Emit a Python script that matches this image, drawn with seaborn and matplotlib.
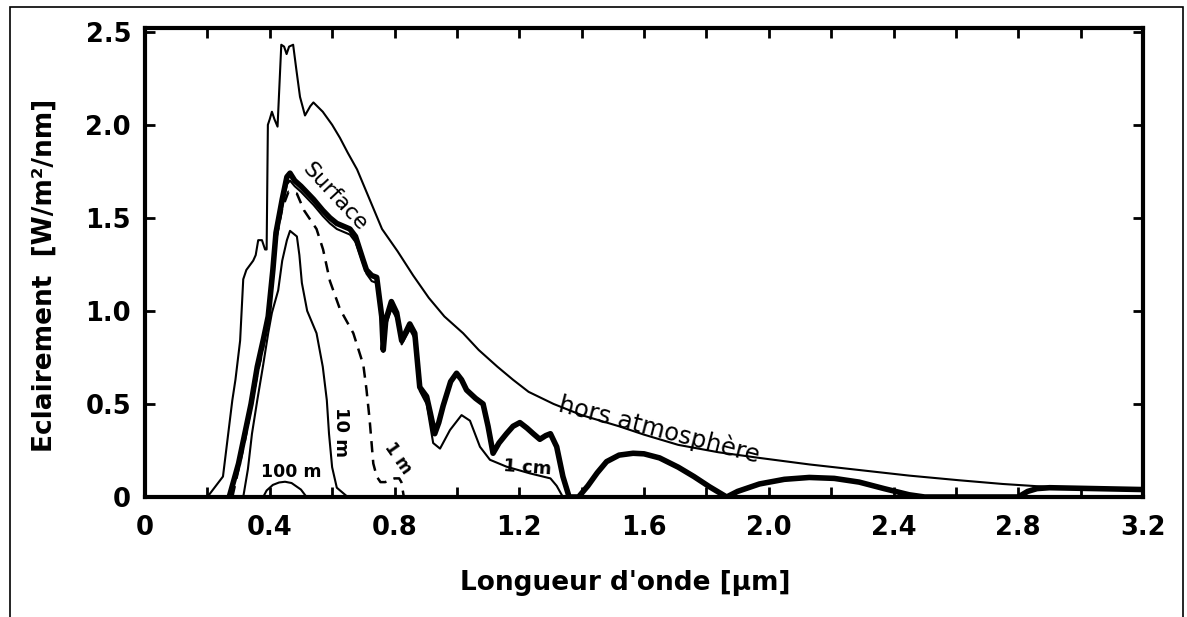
import numpy as np
import pandas as pd
import matplotlib
matplotlib.use("Agg")
import matplotlib.pyplot as plt
from matplotlib.patches import Rectangle
import seaborn as sns

# longueurs d'onde (µm) et éclairement (W/m²/nm)
hors_wl = [0.20, 0.25, 0.28, 0.29, 0.305, 0.315, 0.325, 0.347, 0.355, 0.363, 0.375,
           0.385, 0.390, 0.394, 0.400, 0.407, 0.415, 0.425, 0.437, 0.446, 0.454,
           0.462, 0.475, 0.485, 0.497, 0.513, 0.530, 0.540, 0.570, 0.600, 0.625,
           0.650, 0.680, 0.705, 0.730, 0.760, 0.810, 0.860, 0.910, 0.960, 1.020,
           1.070, 1.130, 1.180, 1.230, 1.310, 1.400, 1.520, 1.600, 1.710, 1.840,
           1.970, 2.130, 2.290, 2.450, 2.610, 2.750, 2.860, 3.000, 3.200]
hors_val = [0.0, 0.11, 0.52, 0.63, 0.84, 1.17, 1.22, 1.27, 1.30, 1.38, 1.38,
            1.33, 1.33, 2.00, 2.03, 2.07, 2.03, 1.99, 2.43, 2.42, 2.38,
            2.42, 2.43, 2.30, 2.15, 2.05, 2.10, 2.12, 2.07, 2.00, 1.93,
            1.85, 1.76, 1.66, 1.56, 1.44, 1.32, 1.19, 1.07, 0.97, 0.88,
            0.79, 0.70, 0.63, 0.565, 0.50, 0.44, 0.38, 0.335, 0.28, 0.24,
            0.21, 0.175, 0.145, 0.115, 0.09, 0.07, 0.058, 0.048, 0.04]

surf_wl = [0.27, 0.30, 0.32, 0.34, 0.36, 0.38, 0.395, 0.41, 0.42, 0.44, 0.455,
           0.465, 0.48, 0.50, 0.54, 0.57, 0.593, 0.615, 0.657, 0.675, 0.70,
           0.71, 0.727, 0.743, 0.759, 0.764, 0.772, 0.79, 0.807, 0.823, 0.849,
           0.865, 0.881, 0.903, 0.915, 0.929, 0.942, 0.956, 0.98, 0.999, 1.015,
           1.031, 1.06, 1.084, 1.10, 1.116, 1.135, 1.159, 1.18, 1.202, 1.225,
           1.245, 1.266, 1.285, 1.30, 1.32, 1.34, 1.36, 1.39, 1.42, 1.45,
           1.48, 1.52, 1.565, 1.60, 1.65, 1.71, 1.76, 1.81, 1.865, 1.90,
           1.97, 2.05, 2.13, 2.21, 2.29, 2.37, 2.45, 2.50, 2.80, 2.83,
           2.86, 2.90, 3.20]
surf_val = [0.0, 0.18, 0.34, 0.50, 0.70, 0.85, 0.97, 1.22, 1.42, 1.60, 1.72,
            1.74, 1.70, 1.67, 1.60, 1.54, 1.50, 1.47, 1.44, 1.40, 1.27,
            1.22, 1.19, 1.18, 0.97, 0.79, 0.95, 1.05, 0.99, 0.84, 0.93,
            0.88, 0.59, 0.54, 0.45, 0.34, 0.40, 0.49, 0.62, 0.665, 0.63,
            0.575, 0.53, 0.50, 0.38, 0.235, 0.29, 0.34, 0.38, 0.40, 0.37,
            0.34, 0.31, 0.33, 0.34, 0.27, 0.11, 0.0, 0.0, 0.06, 0.13,
            0.19, 0.225, 0.235, 0.232, 0.21, 0.16, 0.11, 0.055, 0.0, 0.03,
            0.07, 0.095, 0.105, 0.10, 0.08, 0.045, 0.012, 0.0, 0.0, 0.03,
            0.045, 0.05, 0.04]

cm_wl = [0.27, 0.30, 0.32, 0.34, 0.36, 0.38, 0.395, 0.41, 0.42, 0.44, 0.455,
         0.465, 0.48, 0.50, 0.54, 0.57, 0.593, 0.615, 0.657, 0.675, 0.70,
         0.71, 0.727, 0.743, 0.759, 0.764, 0.772, 0.79, 0.807, 0.823, 0.849,
         0.865, 0.881, 0.903, 0.924, 0.946, 0.978, 1.015, 1.042, 1.074, 1.106,
         1.159, 1.234, 1.30, 1.32, 1.34]
cm_val = [0.0, 0.17, 0.33, 0.49, 0.68, 0.83, 0.95, 1.19, 1.38, 1.56, 1.68,
          1.70, 1.67, 1.64, 1.57, 1.51, 1.47, 1.44, 1.41, 1.37, 1.25,
          1.20, 1.16, 1.15, 0.95, 0.78, 0.92, 1.01, 0.96, 0.82, 0.90,
          0.85, 0.57, 0.50, 0.29, 0.26, 0.36, 0.44, 0.41, 0.27, 0.20,
          0.163, 0.127, 0.10, 0.06, 0.0]

m1_wl = [0.28, 0.30, 0.32, 0.34, 0.36, 0.375, 0.395, 0.41, 0.42, 0.44, 0.46,
         0.487, 0.51, 0.55, 0.571, 0.593, 0.625, 0.668, 0.70, 0.71, 0.72,
         0.732, 0.743, 0.755, 0.77, 0.785, 0.80, 0.815, 0.822, 0.83]
m1_val = [0.0, 0.15, 0.30, 0.48, 0.66, 0.77, 0.95, 1.20, 1.38, 1.55, 1.64,
          1.63, 1.54, 1.44, 1.33, 1.16, 1.01, 0.88, 0.71, 0.58, 0.42,
          0.18, 0.11, 0.08, 0.08, 0.09, 0.10, 0.10, 0.08, 0.0]

m10_wl = [0.315, 0.33, 0.343, 0.36, 0.378, 0.395, 0.407, 0.427, 0.44, 0.455,
          0.465, 0.487, 0.495, 0.503, 0.52, 0.55, 0.57, 0.583, 0.59, 0.60,
          0.615, 0.65]
m10_val = [0.0, 0.15, 0.34, 0.52, 0.70, 0.88, 0.99, 1.11, 1.27, 1.38,
           1.43, 1.40, 1.30, 1.15, 1.00, 0.88, 0.70, 0.52, 0.34, 0.16,
           0.05, 0.0]

m100_wl = [0.379, 0.39, 0.41, 0.43, 0.449, 0.47, 0.50, 0.518]
m100_val = [0.0, 0.035, 0.065, 0.078, 0.082, 0.075, 0.04, 0.0]

x_ticks = [0, 0.4, 0.8, 1.2, 1.6, 2.0, 2.4, 2.8, 3.2]
x_labels = ["0", "0.4", "0.8", "1.2", "1.6", "2.0", "2.4", "2.8", "3.2"]
y_ticks = [0, 0.5, 1.0, 1.5, 2.0, 2.5]
y_labels = ["0", "0.5", "1.0", "1.5", "2.0", "2.5"]

sns.set_style("ticks")
plt.rcParams["font.family"] = ["DejaVu Sans"]
plt.rcParams.update({"text.color": "black", "axes.labelcolor": "black",
                     "xtick.color": "black", "ytick.color": "black",
                     "axes.edgecolor": "black"})

fig = plt.figure(figsize=(11.87, 6.17), dpi=100)
ax = fig.add_axes([145 / 1187, 1 - 497 / 617, 998 / 1187, 469 / 617])

curves = [
    (hors_wl, hors_val, 1.5),
    (cm_wl, cm_val, 1.5),
    (surf_wl, surf_val, 4.0),
    (m10_wl, m10_val, 1.5),
    (m100_wl, m100_val, 1.5),
]
for wl, val, lw in curves:
    df = pd.DataFrame({"wl": wl, "E": val})
    sns.lineplot(data=df, x="wl", y="E", ax=ax, color="black", lw=lw,
                 estimator=None, errorbar=None)

df_1m = pd.DataFrame({"wl": m1_wl, "E": m1_val})
sns.lineplot(data=df_1m, x="wl", y="E", ax=ax, color="black", lw=1.8,
             estimator=None, errorbar=None)
ax.lines[-1].set_dashes([4.5, 3])

ax.set_xlim(0, 3.2)
ax.set_ylim(0, 2.52)
ax.set_xticks(x_ticks)
ax.set_xticklabels(x_labels)
ax.set_xticks(np.arange(0.2, 3.2, 0.4), minor=True)
ax.set_yticks(y_ticks)
ax.set_yticklabels(y_labels)

for s in ax.spines.values():
    s.set_linewidth(3)
    s.set_visible(True)
ax.tick_params(which="both", direction="in", top=True, right=True,
               length=7, width=2)
ax.tick_params(axis="both", labelsize=18.5)
ax.tick_params(axis="x", pad=13)
ax.tick_params(axis="y", pad=10)
for lab in ax.get_xticklabels() + ax.get_yticklabels():
    lab.set_fontweight("bold")

ax.set_xlabel("Longueur d'onde [µm]", fontsize=19, fontweight="bold")
ax.set_ylabel("Eclairement  [W/m²/nm]", fontsize=19, fontweight="bold")
ax.xaxis.set_label_coords(0.481, -0.155)
ax.yaxis.set_label_coords(-0.088, 0.473)

# annotations des courbes
ax.text(0.609, 1.61, "Surface", rotation=-47, fontsize=16,
        ha="center", va="center")
ax.text(1.65, 0.36, "hors atmosphère", rotation=-14.5, fontsize=17.5,
        ha="center", va="center")
ax.text(1.225, 0.155, "1 cm", rotation=-4, fontsize=13, fontweight="bold",
        ha="center", va="center")
ax.text(0.63, 0.35, "10 m", rotation=-90, fontsize=13, fontweight="bold",
        ha="center", va="center")
ax.text(0.81, 0.21, "1 m", rotation=-55, fontsize=12, fontweight="bold",
        ha="center", va="center")
ax.text(0.47, 0.135, "100 m", fontsize=12.5, fontweight="bold",
        ha="center", va="center")

# cadre extérieur
fig.add_artist(Rectangle((10 / 1187, -0.05), 1173 / 1187, 1.05 - 7 / 617,
                         transform=fig.transFigure, fill=False,
                         edgecolor="black", lw=1.2))

fig.savefig("out.png", dpi=100)
